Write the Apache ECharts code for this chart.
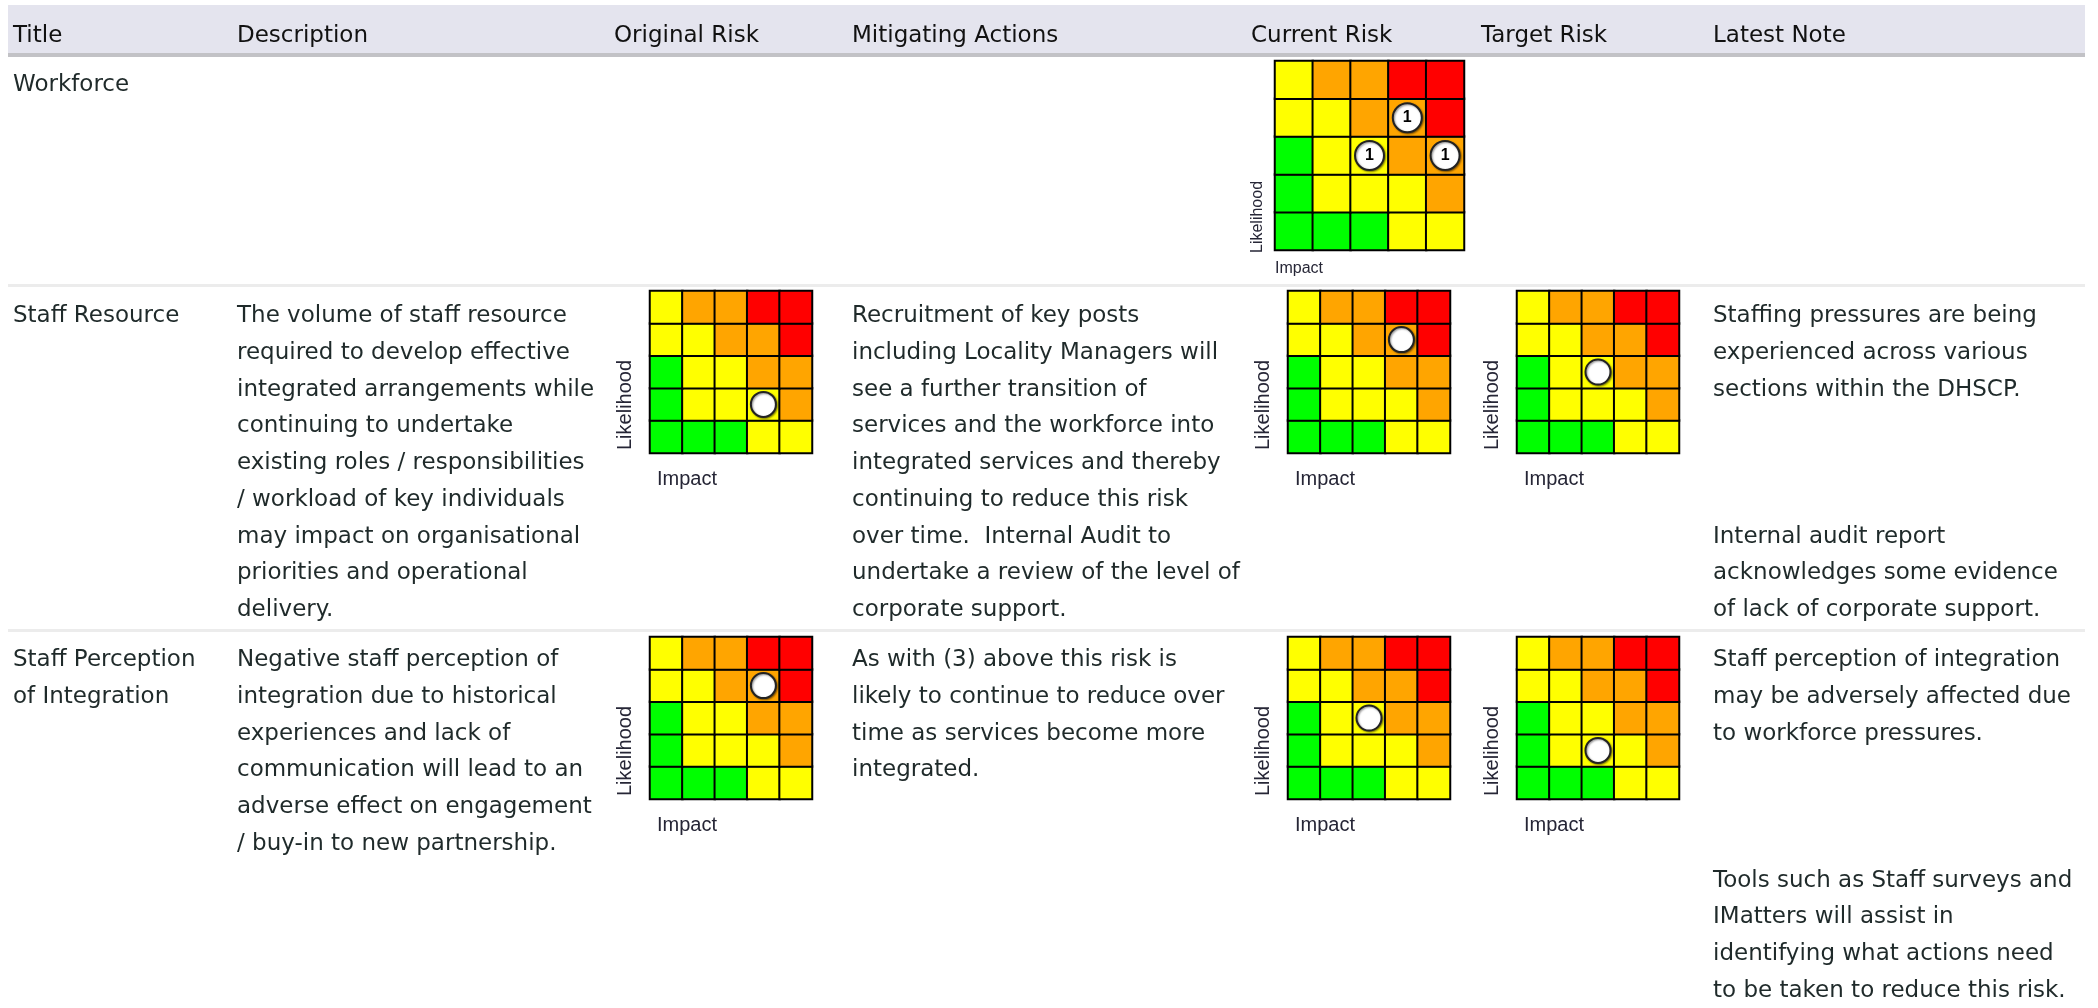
<!DOCTYPE html>
<html>
<head>
<meta charset="utf-8">
<script src="https://cdn.jsdelivr.net/npm/echarts@6/dist/echarts.min.js"></script>
<style>
html,body{margin:0;padding:0;background:#ffffff;}
#chart{width:2098px;height:1008px;}
</style>
</head>
<body>
<div id="chart"></div>
<script>
// ---------------- DATA ----------------
const columnHeaders = ['Title', 'Description', 'Original Risk', 'Mitigating Actions', 'Current Risk', 'Target Risk', 'Latest Note'];

const rowTitles = [
  'Workforce',
  'Staff Resource',
  'Staff Perception\nof Integration'
];

const descriptions = [
  '',
  'The volume of staff resource\nrequired to develop effective\nintegrated arrangements while\ncontinuing to undertake\nexisting roles / responsibilities\n/ workload of key individuals\nmay impact on organisational\npriorities and operational\ndelivery.',
  'Negative staff perception of\nintegration due to historical\nexperiences and lack of\ncommunication will lead to an\nadverse effect on engagement\n/ buy-in to new partnership.'
];

const mitigatingActions = [
  '',
  'Recruitment of key posts\nincluding Locality Managers will\nsee a further transition of\nservices and the workforce into\nintegrated services and thereby\ncontinuing to reduce this risk\nover time.  Internal Audit to\nundertake a review of the level of\ncorporate support.',
  'As with (3) above this risk is\nlikely to continue to reduce over\ntime as services become more\nintegrated.'
];

const latestNotes = [
  '',
  'Staffing pressures are being\nexperienced across various\nsections within the DHSCP.\n\n\n\nInternal audit report\nacknowledges some evidence\nof lack of corporate support.',
  'Staff perception of integration\nmay be adversely affected due\nto workforce pressures.\n\n\n\nTools such as Staff surveys and\nIMatters will assist in\nidentifying what actions need\nto be taken to reduce this risk.'
];

const impactLabels = ['1', '2', '3', '4', '5'];
const likelihoodLabels = ['1', '2', '3', '4', '5'];

// risk band of every cell; rows = likelihood 1..5 (bottom to top), columns = impact 1..5
// 1 = low, 2 = medium, 3 = high, 4 = very high
const riskBands = [
  [1, 1, 1, 2, 2],
  [1, 2, 2, 2, 3],
  [1, 2, 2, 3, 3],
  [2, 2, 3, 3, 4],
  [2, 3, 3, 4, 4]
];

// risk markers per row: [impact, likelihood, count]  (count shown when given)
const originalRisk = [
  [],
  [[4, 2]],
  [[4, 4]]
];
const currentRisk = [
  [[4, 4, 1], [3, 3, 1], [5, 3, 1]],
  [[4, 4]],
  [[3, 3]]
];
const targetRisk = [
  [],
  [[3, 3]],
  [[3, 2]]
];

// ---------------- LAYOUT / STYLE ----------------
const bandColours = ['#00ff00', '#ffff00', '#ffa500', '#ff0000'];
const colX = [13, 237, 614, 852, 1251, 1481, 1713];
const tableLeft = 8, tableRight = 2085;
const rowTextTop = [67, 298, 642];
const rowMatrixTop = [61, 291, 637];
const matrixLeft = { original: 650, current: 1288, target: 1517 };
const bodyFont = '23px "DejaVu Sans"';
const lineH = 36.7;

const grids = [], xAxes = [], yAxes = [], series = [], graphics = [];
const heatSeriesIdx = [];

const heatData = [];
riskBands.forEach(function (row, li) {
  row.forEach(function (band, ii) {
    heatData.push([impactLabels[ii], likelihoodLabels[li], band]);
  });
});

// header band
graphics.push({ type: 'rect', shape: { x: tableLeft, y: 5, width: tableRight - tableLeft, height: 48 }, style: { fill: '#e4e4ee' }, z: 0 });
graphics.push({ type: 'rect', shape: { x: tableLeft, y: 53, width: tableRight - tableLeft, height: 4 }, style: { fill: '#c2c2c6' }, z: 0 });
columnHeaders.forEach(function (h, i) {
  graphics.push({ type: 'text', x: colX[i], y: 36, style: { text: h, font: bodyFont, fill: '#111111', align: 'left', verticalAlign: 'middle' }, z: 1 });
});
// row dividers
[284, 629].forEach(function (y) {
  graphics.push({ type: 'rect', shape: { x: tableLeft, y: y, width: tableRight - tableLeft, height: 3 }, style: { fill: '#ececec' }, z: 0 });
});

function addText(str, x, y) {
  if (!str) return;
  graphics.push({ type: 'text', x: x, y: y, style: { text: str, font: bodyFont, fill: '#1f2a2a', align: 'left', verticalAlign: 'top', lineHeight: lineH }, z: 1 });
}

function addMatrix(left, top, size, markers, small) {
  const gi = grids.length;
  grids.push({ left: left, top: top, width: size, height: size, show: true, borderColor: '#3a3a3a', borderWidth: 1, backgroundColor: 'transparent' });
  xAxes.push({ gridIndex: gi, type: 'category', data: impactLabels, show: false });
  yAxes.push({ gridIndex: gi, type: 'category', data: likelihoodLabels, show: false });
  heatSeriesIdx.push(series.length);
  series.push({
    type: 'heatmap', xAxisIndex: gi, yAxisIndex: gi, data: heatData, silent: true,
    itemStyle: { borderColor: '#000000', borderWidth: 2 }, emphasis: { disabled: true }, z: 2
  });
  series.push({
    type: 'scatter', xAxisIndex: gi, yAxisIndex: gi, silent: true, z: 4,
    data: markers.map(function (m) { return [impactLabels[m[0] - 1], likelihoodLabels[m[1] - 1], m[2] || '']; }),
    symbol: 'circle', symbolSize: small ? 29 : 25,
    itemStyle: { color: '#ffffff', opacity: 1, borderColor: '#222222', borderWidth: 2, shadowColor: 'rgba(0,0,0,0.45)', shadowBlur: 2, shadowOffsetX: 1, shadowOffsetY: 1 },
    label: {
      show: true, position: 'inside', color: '#000000', fontWeight: 'bold', fontSize: 16, fontFamily: 'Liberation Sans',
      formatter: function (p) { return p.value[2] === '' ? '' : String(p.value[2]); }
    }
  });
  const bottom = top + size;
  const fs = small ? 16 : 20;
  graphics.push({ type: 'text', x: left - (small ? 17 : 25), y: bottom + (small ? 3 : -3), rotation: Math.PI / 2,
    style: { text: 'Likelihood', font: fs + 'px "Liberation Sans"', fill: '#262636', align: 'left', verticalAlign: 'middle' }, z: 1 });
  graphics.push({ type: 'text', x: left + (small ? 0 : 7), y: bottom + (small ? 19 : 26),
    style: { text: 'Impact', font: fs + 'px "Liberation Sans"', fill: '#262636', align: 'left', verticalAlign: 'middle' }, z: 1 });
}

rowTitles.forEach(function (t, r) {
  addText(t, colX[0], rowTextTop[r]);
  addText(descriptions[r], colX[1], rowTextTop[r]);
  addText(mitigatingActions[r], colX[3], rowTextTop[r]);
  addText(latestNotes[r], colX[6], rowTextTop[r]);
  if (r === 0) {
    addMatrix(1275, rowMatrixTop[0], 189, currentRisk[0], true);
  } else {
    addMatrix(matrixLeft.original, rowMatrixTop[r], 162, originalRisk[r], false);
    addMatrix(matrixLeft.current, rowMatrixTop[r], 162, currentRisk[r], false);
    addMatrix(matrixLeft.target, rowMatrixTop[r], 162, targetRisk[r], false);
  }
});

const chart = echarts.init(document.getElementById('chart'));
chart.setOption({
  animation: false,
  backgroundColor: '#ffffff',
  grid: grids,
  xAxis: xAxes,
  yAxis: yAxes,
  visualMap: {
    type: 'piecewise', show: false, dimension: 2, seriesIndex: heatSeriesIdx,
    pieces: [
      { value: 1, color: bandColours[0] },
      { value: 2, color: bandColours[1] },
      { value: 3, color: bandColours[2] },
      { value: 4, color: bandColours[3] }
    ]
  },
  series: series,
  graphic: graphics
});
</script>
</body>
</html>
